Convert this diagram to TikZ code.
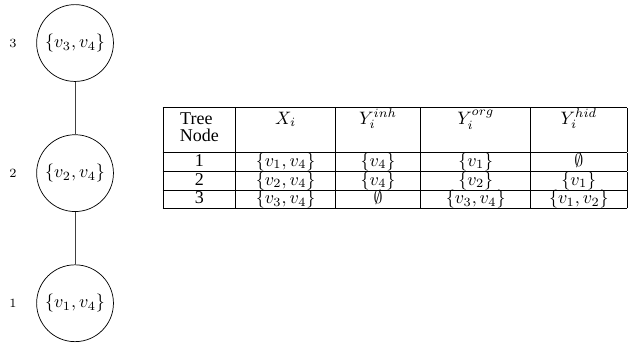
\documentclass[tikz,border=0pt]{standalone}
\usepackage{fontspec}
\usepackage{array}
\newfontfamily\tabfont{Liberation Serif}
\usetikzlibrary{positioning}
\tikzstyle{treenode} = [circle, draw=black, minimum size=1.5cm, inner sep=0pt]
\tikzstyle{treelabel} = [font=\scriptsize]
\tikzstyle{treeedge} = [draw=black!75]
\newcolumntype{C}[1]{>{\centering\arraybackslash}p{#1}}

\begin{document}
\begin{tikzpicture}[node distance=2.54cm]
    \useasboundingbox (0,0) rectangle (12.28,6.83);
    % Tree nodes
    \node (t3) [treenode] at (1.465,5.99) {$\{v_3, v_4\}$};
    \node (t2) [treenode, below of=t3] {$\{v_2, v_4\}$};
    \node (t1) [treenode, below of=t2] {$\{v_1, v_4\}$};
    % Tree labels
    \node (l3) [treelabel, left of=t3, node distance=1.21cm] {3};
    \node (l2) [treelabel, left of=t2, node distance=1.21cm] {2};
    \node (l1) [treelabel, left of=t1, node distance=1.21cm] {1};

    % Table
    \node (tab) [inner sep=0pt, anchor=north] at (7.71,4.74) {\tabfont
      \fontsize{10}{9.4}\selectfont\renewcommand{\arraystretch}{0.1}%
      \begin{tabular}{|C{28pt}|C{43pt}|C{35pt}|C{48.7pt}|C{41pt}|}
      \hline
      \rule{0pt}{8.9pt}Tree\newline Node\rule[-6.1pt]{0pt}{0pt} & $X_i$ & $Y_i^{inh}$ & $Y_i^{org}$ & $Y_i^{hid}$ \\
      \hline
      1 & $\{v_1, v_4\}$ & $\{v_4\}$ & $\{v_1\}$ & $\emptyset$ \\
      \hline
      2 & $\{v_2, v_4\}$ & $\{v_4\}$ & $\{v_2\}$ & $\{v_1\}$ \\
      \hline
      3 & $\{v_3, v_4\}$ & $\emptyset$ & $\{v_3, v_4\}$ & $\{v_1, v_2\}$ \\
      \hline
      \end{tabular}};

    % Edges
    \draw [treeedge] (t3) -- (t2);
    \draw [treeedge] (t2) -- (t1);
\end{tikzpicture}
\end{document}
